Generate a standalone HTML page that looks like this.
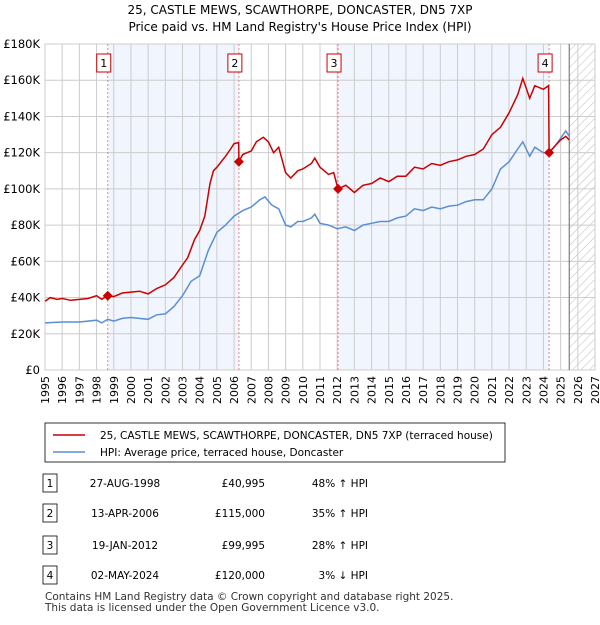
<!DOCTYPE html>
<html><head><meta charset="utf-8"><style>
body{margin:0;background:#fff;font-family:"Liberation Sans","DejaVu Sans",sans-serif;}
svg text{font-family:"DejaVu Sans","Liberation Sans",sans-serif;}
</style></head><body>
<svg id="c" width="600" height="620" xmlns="http://www.w3.org/2000/svg">
<defs><pattern id="hatch" width="6" height="6" patternUnits="userSpaceOnUse" patternTransform="rotate(45)"><line x1="0" y1="0" x2="0" y2="6" stroke="#bbb" stroke-width="1"/></pattern></defs>
<text x="300" y="14" text-anchor="middle" font-size="12">25, CASTLE MEWS, SCAWTHORPE, DONCASTER, DN5 7XP</text>
<text x="300" y="31" text-anchor="middle" font-size="12">Price paid vs. HM Land Registry's House Price Index (HPI)</text>
<g id="plot"></g>
<g>
<rect x="45" y="423" width="460" height="39" fill="#fff" stroke="#000" stroke-width="0.8"/>
<line x1="53" y1="435" x2="85" y2="435" stroke="#cc0000" stroke-width="1.5"/>
<text x="100" y="439" font-size="10.5">25, CASTLE MEWS, SCAWTHORPE, DONCASTER, DN5 7XP (terraced house)</text>
<line x1="53" y1="452" x2="85" y2="452" stroke="#5b8fd4" stroke-width="1.5"/>
<text x="100" y="456" font-size="10.5">HPI: Average price, terraced house, Doncaster</text>
</g>
<g id="tbl" font-size="10.5"></g>
<text x="45" y="600" font-size="10.5" fill="#333">Contains HM Land Registry data © Crown copyright and database right 2025.</text>
<text x="45" y="611" font-size="10.5" fill="#333">This data is licensed under the Open Government Licence v3.0.</text>
</svg>
<script>
const yearTicks=[1995,1996,1997,1998,1999,2000,2001,2002,2003,2004,2005,2006,2007,2008,2009,2010,2011,2012,2013,2014,2015,2016,2017,2018,2019,2020,2021,2022,2023,2024,2025,2026,2027];
const valueTicks=[0,20,40,60,80,100,120,140,160,180];
const valueLabels=["£0","£20K","£40K","£60K","£80K","£100K","£120K","£140K","£160K","£180K"];
const priceX=[1995,1995.3,1995.7,1996,1996.5,1997,1997.5,1998,1998.3,1998.65,1999,1999.5,2000,2000.5,2001,2001.5,2002,2002.5,2003,2003.3,2003.7,2004,2004.3,2004.6,2004.8,2005,2005.5,2005.8,2006,2006.27,2006.28,2006.5,2007,2007.3,2007.7,2008,2008.3,2008.6,2009,2009.3,2009.7,2010,2010.5,2010.7,2011,2011.5,2011.8,2012.05,2012.5,2013,2013.5,2014,2014.5,2015,2015.5,2016,2016.5,2017,2017.5,2018,2018.5,2019,2019.5,2020,2020.5,2021,2021.5,2022,2022.5,2022.8,2023.2,2023.5,2024,2024.3,2024.33,2024.7,2025,2025.3,2025.5];
const priceY=[38,40,39,39.5,38.5,39,39.5,41,39,41,40.5,42.5,43,43.5,42,45,47,51,58,62,72,77,85,103,110,112,118,122,125,125.5,115,119,121,126,128.5,126,120,123,109,106,110,111,114,117,112,108,109,100,102,98,102,103,106,104,107,107,112,111,114,113,115,116,118,119,122,130,134,142,152,161,150,157,155,157,120,124,127,129,127];
const hpiX=[1995,1996,1997,1998,1998.3,1998.65,1999,1999.5,2000,2001,2001.5,2002,2002.5,2003,2003.5,2004,2004.5,2005,2005.5,2006,2006.5,2007,2007.5,2007.8,2008.2,2008.6,2009,2009.3,2009.7,2010,2010.5,2010.7,2011,2011.5,2012,2012.5,2013,2013.5,2014,2014.5,2015,2015.5,2016,2016.5,2017,2017.5,2018,2018.5,2019,2019.5,2020,2020.5,2021,2021.5,2022,2022.5,2022.8,2023.2,2023.5,2024,2024.33,2024.7,2025,2025.3,2025.5];
const hpiY=[26,26.5,26.5,27.5,26,28,27,28.5,29,28,30.5,31,35,41,49,52,66,76,80,85,88,90,94,95.5,91,89,80,79,82,82,84,86,81,80,78,79,77,80,81,82,82,84,85,89,88,90,89,90.5,91,93,94,94,100,111,115,122,126,118,123,120,120,124,128,132,129];
const saleDates=[1998.65,2006.28,2012.05,2024.33];
const saleValues=[40.995,115,99.995,120];
const saleLabels=["1","2","3","4"];
const rowDates=["27-AUG-1998","13-APR-2006","19-JAN-2012","02-MAY-2024"];
const rowPrices=["£40,995","£115,000","£99,995","£120,000"];
const rowHpi=["48% ↑ HPI","35% ↑ HPI","28% ↑ HPI","3% ↓ HPI"];

const X0=45,X1=595,Y0=370,Y1=44;
const sx=v=>X0+(v-1995)/(2027-1995)*(X1-X0);
const sy=v=>Y0-v/180*(Y0-Y1);
const NS="http://www.w3.org/2000/svg";
const plot=document.getElementById('plot');
function mk(tag,attrs,parent){const e=document.createElementNS(NS,tag);for(const k in attrs)e.setAttribute(k,attrs[k]);(parent||plot).appendChild(e);return e;}
// shaded ownership
let r=mk('rect',{x:sx(saleDates[0]),y:Y1,width:sx(saleDates[1])-sx(saleDates[0]),height:Y0-Y1,fill:'#eef3fc',opacity:0.8});


r=mk('rect',{x:sx(saleDates[2]),y:Y1,width:sx(saleDates[3])-sx(saleDates[2]),height:Y0-Y1,fill:'#eef3fc',opacity:0.8});


r=mk('rect',{x:sx(2025.5),y:Y1,width:X1-sx(2025.5),height:Y0-Y1,fill:'url(#hatch)'});


// grid
yearTicks.forEach(y=>{const l=mk('line',{x1:sx(y),x2:sx(y),y1:Y1,y2:Y0,stroke:'#ccc','stroke-width':1});


const t=mk('text',{x:0,y:0,'font-size':11,'text-anchor':'end',transform:`translate(${sx(y)+4},${Y0+6}) rotate(-90)`});t.textContent=y;

});
valueTicks.forEach((v,i)=>{const l=mk('line',{x1:X0,x2:X1,y1:sy(v),y2:sy(v),stroke:'#ccc','stroke-width':1});


const t=mk('text',{x:X0-5,y:sy(v)+4,'font-size':11.5,'text-anchor':'end'});t.textContent=valueLabels[i];

});
let b=mk('rect',{x:X0,y:Y1,width:X1-X0,height:Y0-Y1,fill:'none',stroke:'#ccc'});


let nl=mk('line',{x1:sx(2025.5),x2:sx(2025.5),y1:Y1,y2:Y0,stroke:'#666'});


// sale lines
saleDates.forEach((d,i)=>{const l=mk('line',{x1:sx(d),x2:sx(d),y1:Y1,y2:Y0,stroke:'#f08080','stroke-dasharray':'2,2'});

});
// series
const pts=(xs,ys)=>xs.map((x,i)=>sx(x).toFixed(1)+','+sy(ys[i]).toFixed(1)).join(' ');
let h=mk('polyline',{points:pts(hpiX,hpiY),fill:'none',stroke:'#5b8fd4','stroke-width':1.5});


let p=mk('polyline',{points:pts(priceX,priceY),fill:'none',stroke:'#cc0000','stroke-width':1.5});


saleDates.forEach((d,i)=>{const cx=sx(d),cy=sy(saleValues[i]);
const m=mk('polygon',{points:`${cx},${cy-5} ${cx+5},${cy} ${cx},${cy+5} ${cx-5},${cy}`,fill:'#cc0000'});


const g=mk('g',{});


mk('rect',{x:cx-11,y:54,width:14,height:18,fill:'#fff',stroke:'#cc0000'},g);
const t=mk('text',{x:cx-4,y:67,'font-size':11,'text-anchor':'middle'},g);t.textContent=saleLabels[i];});
// table
const tbl=document.getElementById('tbl');
const rowsY=[483,513,545,575];
rowsY.forEach((y,i)=>{const g=mk('g',{},tbl);


mk('rect',{x:43,y:y-9,width:14,height:18,fill:'#fff',stroke:'#000','stroke-width':0.8},g);
let t=mk('text',{x:50,y:y+4,'text-anchor':'middle'},g);t.textContent=saleLabels[i];
t=mk('text',{x:125,y:y+4,'text-anchor':'middle'},g);t.textContent=rowDates[i];
t=mk('text',{x:265,y:y+4,'text-anchor':'end'},g);t.textContent=rowPrices[i];
t=mk('text',{x:368,y:y+4,'text-anchor':'end'},g);t.textContent=rowHpi[i];});
</script>
</body></html>
